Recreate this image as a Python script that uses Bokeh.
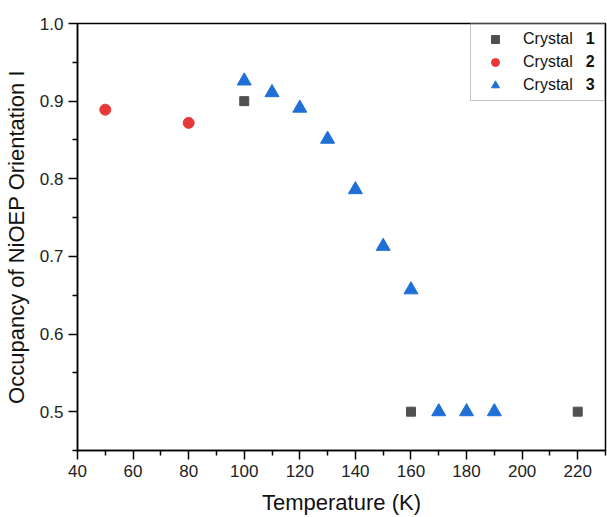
from bokeh.plotting import figure
from bokeh.models import Legend, LegendItem, Label, FixedTicker, NumeralTickFormatter
from bokeh.embed import file_html
from bokeh.resources import INLINE

# Data
c1_x = [100, 160, 220]
c1_y = [0.900, 0.500, 0.500]
c2_x = [50, 80]
c2_y = [0.889, 0.872]
c3_x = [100, 110, 120, 130, 140, 150, 160, 170, 180, 190]
c3_y = [0.926, 0.911, 0.891, 0.851, 0.786, 0.713, 0.657, 0.500, 0.500, 0.500]
series_names = ["Crystal", "Crystal", "Crystal"]
series_nums = ["1", "2", "3"]
x_ticks = [40, 60, 80, 100, 120, 140, 160, 180, 200, 220]
y_ticks = [0.5, 0.6, 0.7, 0.8, 0.9, 1.0]

FONT = "Liberation Sans"

p = figure(frame_width=528, frame_height=427,
           x_range=(40, 230), y_range=(0.45, 1.0),
           output_backend="svg", toolbar_location=None,
           min_border_left=65, min_border_top=23, min_border_right=3, min_border_bottom=60)
p.background_fill_color = "white"
p.border_fill_color = "white"
p.outline_line_color = "black"
p.outline_line_width = 1.5
p.grid.visible = False

r1 = p.scatter(c1_x, c1_y, marker="square", size=9, color="#505050")
r2 = p.scatter(c2_x, c2_y, marker="circle", size=11, color="#e8393a")
r3 = p.scatter(c3_x, c3_y, marker="triangle", size=14, color="#1f6fd6")

for ax in (p.xaxis[0], p.yaxis[0]):
    ax.axis_line_color = "black"
    ax.axis_line_width = 1.5
    ax.major_tick_line_color = "black"
    ax.minor_tick_line_color = "black"
    ax.major_tick_line_width = 1.5
    ax.minor_tick_line_width = 1.5
    ax.major_tick_out = 9
    ax.major_tick_in = 0
    ax.minor_tick_out = 5
    ax.minor_tick_in = 0
    ax.major_label_text_font = FONT
    ax.major_label_text_font_size = "17px"
    ax.major_label_text_color = "#222222"
    ax.axis_label_text_font = FONT
    ax.axis_label_text_font_size = "22px"
    ax.axis_label_text_font_style = "normal"
    ax.axis_label_text_color = "#111111"
    ax.major_label_standoff = 5

p.xaxis[0].ticker = FixedTicker(ticks=x_ticks, minor_ticks=list(range(50, 231, 20)))
p.yaxis[0].ticker = FixedTicker(ticks=y_ticks, minor_ticks=[0.45, 0.55, 0.65, 0.75, 0.85, 0.95])
p.yaxis[0].formatter = NumeralTickFormatter(format="0.0")
p.xaxis[0].axis_label = "Temperature (K)"
p.yaxis[0].axis_label = "Occupancy of NiOEP Orientation I"
p.xaxis[0].axis_label_standoff = 10
p.yaxis[0].axis_label_standoff = 8

legend = Legend(items=[LegendItem(label=series_names[0], renderers=[r1]),
                       LegendItem(label=series_names[1], renderers=[r2]),
                       LegendItem(label=series_names[2], renderers=[r3])],
                location="top_right", margin=0, padding=5, spacing=3,
                glyph_width=38, glyph_height=20, label_standoff=9,
                label_width=76, label_height=20,
                label_text_font=FONT, label_text_font_size="16px",
                label_text_color="#111111",
                border_line_color="#888888", border_line_width=1,
                background_fill_alpha=0.0)
p.add_layout(legend)

# bold numbers in legend labels
num_y = [0.9807, 0.9511, 0.9215]
for n, yy in zip(series_nums, num_y):
    lab = Label(x=222.9, y=yy, text=n)
    lab.text_font = FONT
    lab.text_font_size = "16px"
    lab.text_font_style = "bold"
    lab.text_baseline = "middle"
    lab.text_color = "#111111"
    p.add_layout(lab)

open("out.html", "w").write(file_html(p, INLINE))
